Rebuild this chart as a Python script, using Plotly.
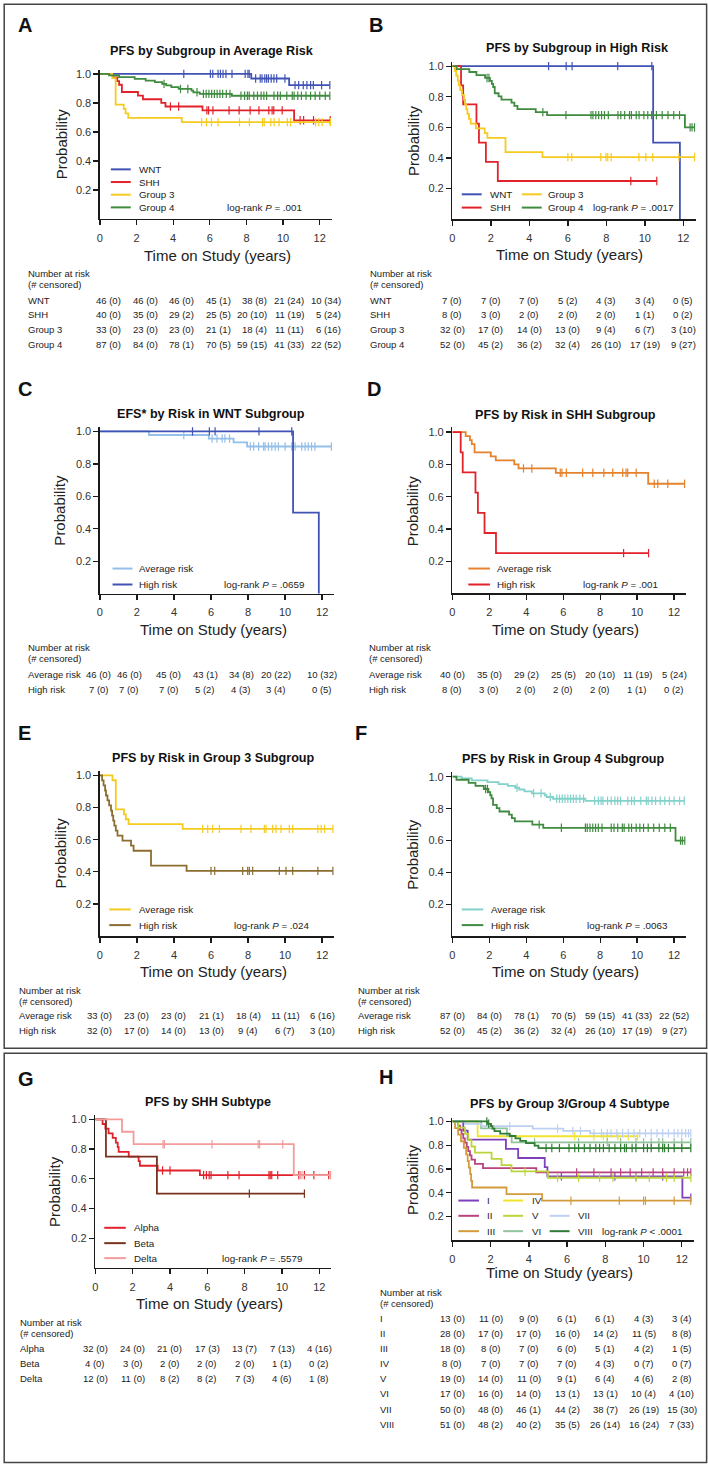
import numpy as np
import plotly.graph_objects as go

W, H = 708, 1464
FONT = "Liberation Sans, Arial, Helvetica, sans-serif"

# ---------------- data ----------------
# Each curve: step times (years), survival after each step, end of follow-up, censor times
WNT_AVG_T = [0, 8.26, 10.33]
WNT_AVG_S = [1.0, 0.968, 0.922]
WNT_AVG_END = 12.55
WNT_AVG_C = [4.58, 6.03, 6.16, 6.45, 6.58, 6.72, 6.88, 7.21, 7.93, 8.08, 8.15, 8.5, 8.75, 8.85,
             9.0, 9.1, 9.2, 9.35, 9.5, 9.65, 10.1, 10.65, 10.85, 11.1, 11.3, 11.5, 11.65, 12.1, 12.55]

SHH_AVG_T = [0, 0.72, 0.95, 1.05, 1.2, 2.08, 2.35, 3.35, 3.58, 5.6, 10.6]
SHH_AVG_S = [1.0, 0.975, 0.95, 0.925, 0.875, 0.85, 0.825, 0.8, 0.775, 0.748, 0.68]
SHH_AVG_END = 12.57
SHH_AVG_C = [3.85, 4.3, 5.84, 5.93, 6.17, 7.05, 7.6, 8.2, 8.68, 9.22, 9.4, 9.49, 9.95,
             10.93, 11.12, 11.66, 12.57]

GRP3_AVG_T = [0, 0.68, 0.86, 1.3, 1.4, 1.55, 4.47]
GRP3_AVG_S = [1.0, 0.97, 0.788, 0.758, 0.727, 0.697, 0.667]
GRP3_AVG_END = 12.58
GRP3_AVG_C = [5.55, 5.82, 6.09, 6.45, 7.62, 8.16, 8.88, 8.97, 9.33, 9.51, 9.78, 10.23, 10.41,
              11.77, 11.95, 12.13, 12.58]

GRP4_AVG_T = [0, 0.5, 1.05, 1.9, 2.5, 3.0, 3.4, 3.62, 3.9, 4.3, 5.0, 5.1, 5.45, 7.2]
GRP4_AVG_S = [1.0, 0.989, 0.977, 0.966, 0.954, 0.943, 0.931, 0.92, 0.908, 0.896, 0.884, 0.873,
              0.862, 0.849]
GRP4_AVG_END = 12.55
GRP4_AVG_C = [3.5, 4.4, 4.8, 5.3, 5.65, 5.8, 5.95, 6.1, 6.25, 6.4, 6.55, 6.7, 6.9, 7.1, 7.7, 7.9,
              8.05, 8.15, 8.4, 8.6, 8.8, 8.95, 9.1, 9.5, 9.7, 9.85, 10.2, 10.5, 10.6, 10.8, 11.0,
              11.25, 11.5, 11.75, 12.0, 12.3, 12.55]

WNT_HIGH_T = [0, 10.43, 11.82]
WNT_HIGH_S = [1.0, 0.5, 0.0]
WNT_HIGH_END = 11.82
WNT_HIGH_C = [5.0, 5.91, 6.22, 8.59, 10.36]

SHH_HIGH_T = [0, 0.45, 0.56, 1.25, 1.38, 1.74, 2.36]
SHH_HIGH_S = [1.0, 0.875, 0.75, 0.625, 0.5, 0.375, 0.25]
SHH_HIGH_END = 10.62
SHH_HIGH_C = [9.27, 10.62]

GRP3_HIGH_T = [0, 0.12, 0.2, 0.28, 0.33, 0.41, 0.5, 0.6, 0.66, 0.72, 0.78, 0.86, 0.95, 1.22,
               1.68, 1.82, 2.76, 4.68]
GRP3_HIGH_S = [1.0, 0.969, 0.938, 0.906, 0.875, 0.844, 0.813, 0.781, 0.75, 0.719, 0.688, 0.656,
               0.625, 0.594, 0.563, 0.531, 0.438, 0.406]
GRP3_HIGH_END = 12.58
GRP3_HIGH_C = [6.0, 6.2, 7.71, 7.98, 8.07, 8.25, 9.69, 10.05, 10.41, 11.77, 12.58]

GRP4_HIGH_T = [0, 0.22, 0.88, 1.25, 1.7, 1.95, 2.05, 2.12, 2.2, 2.4, 2.55, 3.07, 3.22, 3.38,
               4.33, 4.92, 12.08]
GRP4_HIGH_S = [1.0, 0.981, 0.962, 0.942, 0.923, 0.904, 0.884, 0.864, 0.823, 0.803, 0.782, 0.762,
               0.741, 0.72, 0.70, 0.68, 0.60]
GRP4_HIGH_END = 12.58
GRP4_HIGH_C = [1.8, 1.9, 4.7, 5.9, 7.2, 7.3, 7.45, 7.6, 7.75, 7.9, 8.1, 8.6, 8.75, 8.95, 9.2, 9.3,
               9.55, 9.7, 9.95, 10.15, 10.35, 10.6, 10.9, 11.2, 11.5, 11.8, 12.35, 12.45, 12.58]

WNT_AVG_EFS_T = [0, 2.65, 5.88, 7.22, 7.95]
WNT_AVG_EFS_S = [1.0, 0.978, 0.956, 0.932, 0.907]
WNT_AVG_EFS_END = 12.5
WNT_AVG_EFS_C = [4.53, 6.06, 6.32, 6.6, 6.75, 7.0, 8.12, 8.3, 8.57, 8.84, 8.92, 9.1, 9.28, 9.46,
                 9.64, 10.0, 10.36, 10.54, 10.9, 11.08, 11.25, 11.43, 11.61, 12.5]

ALPHA_T = [0, 0.39, 0.54, 0.71, 0.93, 1.1, 1.2, 1.25, 1.79, 2.32, 2.39, 3.34, 5.6]
ALPHA_S = [1.0, 0.969, 0.938, 0.906, 0.875, 0.844, 0.813, 0.781, 0.75, 0.719, 0.688, 0.656, 0.625]
ALPHA_END = 12.5
ALPHA_C = [3.6, 4.0, 5.8, 5.95, 6.1, 6.2, 7.1, 7.7, 9.3, 9.37, 9.45, 9.77, 10.9, 11.2, 11.7, 12.5]

BETA_T = [0, 0.57, 3.3]
BETA_S = [1.0, 0.75, 0.5]
BETA_END = 11.2
BETA_C = [8.25, 11.2]

DELTA_T = [0, 1.43, 2.05, 10.63]
DELTA_S = [1.0, 0.917, 0.833, 0.625]
DELTA_END = 12.6
DELTA_C = [3.63, 3.7, 6.25, 8.72, 8.8, 10.04, 10.98, 11.07, 11.73, 12.6]

SUB1_T = [0, 0.57, 0.8, 2.8, 3.44, 4.83, 4.97, 12.03]
SUB1_S = [1.0, 0.923, 0.846, 0.769, 0.692, 0.615, 0.538, 0.359]
SUB1_END = 12.47
SUB1_C = [5.7, 8.5, 9.6, 11.0, 12.47]

SUB2_T = [0, 0.3, 0.4, 0.48, 0.57, 0.65, 0.75, 0.83, 0.92, 1.0, 1.18, 1.6, 4.39]
SUB2_S = [1.0, 0.964, 0.929, 0.893, 0.857, 0.821, 0.786, 0.75, 0.714, 0.679, 0.643, 0.607, 0.571]
SUB2_END = 12.47
SUB2_C = [6.5, 7.4, 8.3, 8.8, 9.3, 9.9, 10.5, 11.0, 11.6, 12.1, 12.3, 12.47]

SUB3_T = [0, 0.14, 0.3, 0.45, 0.6, 0.72, 0.8, 0.86, 0.93, 0.98, 1.03, 2.83, 4.69]
SUB3_S = [1.0, 0.944, 0.889, 0.833, 0.778, 0.722, 0.667, 0.611, 0.556, 0.5, 0.444, 0.389, 0.333]
SUB3_END = 12.47
SUB3_C = [6.2, 8.73, 10.0, 10.1, 11.6, 12.47]

SUB4_T = [0, 1.32]
SUB4_S = [1.0, 0.875]
SUB4_END = 9.69
SUB4_C = [6.4, 7.4, 7.9, 8.1, 8.65, 9.2, 9.69]

SUB5_T = [0, 0.31, 0.66, 0.83, 1.0, 1.18, 2.05, 2.57, 3.09, 5.0]
SUB5_S = [1.0, 0.947, 0.895, 0.842, 0.789, 0.737, 0.684, 0.632, 0.579, 0.526]
SUB5_END = 12.47
SUB5_C = [3.8, 5.5, 6.6, 7.7, 8.4, 9.6, 10.3, 11.2, 11.6, 12.47]

SUB6_T = [0, 1.5, 2.85, 3.1]
SUB6_S = [1.0, 0.941, 0.882, 0.824]
SUB6_END = 12.47
SUB6_C = [4.3, 6.6, 8.1, 8.8, 9.6, 10.0, 10.4, 10.8, 11.0, 11.6, 12.0, 12.47]

SUB7_T = [0, 0.66, 1.53, 4.2, 5.8, 7.2]
SUB7_S = [1.0, 0.98, 0.96, 0.94, 0.92, 0.90]
SUB7_END = 12.47
SUB7_C = [3.0, 5.5, 6.3, 6.7, 7.4, 7.8, 8.1, 8.3, 8.6, 8.9, 9.2, 9.5, 9.8, 10.1, 10.4, 10.7, 11.0,
          11.3, 11.6, 11.8, 12.0, 12.2, 12.35, 12.47]

SUB8_T = [0, 1.85, 2.02, 2.1, 2.2, 2.5, 3.0, 3.3, 3.55, 3.85, 4.3, 4.5]
SUB8_S = [1.0, 0.98, 0.96, 0.939, 0.918, 0.898, 0.877, 0.857, 0.837, 0.817, 0.796, 0.776]
SUB8_END = 12.47
SUB8_C = [1.8, 1.9, 4.9, 5.2, 5.6, 6.1, 6.4, 6.6, 6.9, 7.2, 7.5, 7.7, 7.9, 8.2, 8.5, 8.8, 9.0,
          9.1, 9.4, 9.6, 10.0, 10.2, 10.4, 10.8, 11.0, 11.1, 11.3, 11.6, 12.0, 12.47]

# ---------------- number-at-risk tables ----------------
X_TICKS = [0, 2, 4, 6, 8, 10, 12]
Y_TICKS = [0.2, 0.4, 0.6, 0.8, 1.0]
Y_TICK_TEXT = ["0.2", "0.4", "0.6", "0.8", "1.0"]

TAB_A = [["46 (0)", "46 (0)", "46 (0)", "45 (1)", "38 (8)", "21 (24)", "10 (34)"],
         ["40 (0)", "35 (0)", "29 (2)", "25 (5)", "20 (10)", "11 (19)", "5 (24)"],
         ["33 (0)", "23 (0)", "23 (0)", "21 (1)", "18 (4)", "11 (11)", "6 (16)"],
         ["87 (0)", "84 (0)", "78 (1)", "70 (5)", "59 (15)", "41 (33)", "22 (52)"]]
TAB_B = [["7 (0)", "7 (0)", "7 (0)", "5 (2)", "4 (3)", "3 (4)", "0 (5)"],
         ["8 (0)", "3 (0)", "2 (0)", "2 (0)", "2 (0)", "1 (1)", "0 (2)"],
         ["32 (0)", "17 (0)", "14 (0)", "13 (0)", "9 (4)", "6 (7)", "3 (10)"],
         ["52 (0)", "45 (2)", "36 (2)", "32 (4)", "26 (10)", "17 (19)", "9 (27)"]]
TAB_C = [["46 (0)", "46 (0)", "45 (0)", "43 (1)", "34 (8)", "20 (22)", "10 (32)"],
         ["7 (0)", "7 (0)", "7 (0)", "5 (2)", "4 (3)", "3 (4)", "0 (5)"]]
TAB_D = [["40 (0)", "35 (0)", "29 (2)", "25 (5)", "20 (10)", "11 (19)", "5 (24)"],
         ["8 (0)", "3 (0)", "2 (0)", "2 (0)", "2 (0)", "1 (1)", "0 (2)"]]
TAB_E = [["33 (0)", "23 (0)", "23 (0)", "21 (1)", "18 (4)", "11 (11)", "6 (16)"],
         ["32 (0)", "17 (0)", "14 (0)", "13 (0)", "9 (4)", "6 (7)", "3 (10)"]]
TAB_F = [["87 (0)", "84 (0)", "78 (1)", "70 (5)", "59 (15)", "41 (33)", "22 (52)"],
         ["52 (0)", "45 (2)", "36 (2)", "32 (4)", "26 (10)", "17 (19)", "9 (27)"]]
TAB_G = [["32 (0)", "24 (0)", "21 (0)", "17 (3)", "13 (7)", "7 (13)", "4 (16)"],
         ["4 (0)", "3 (0)", "2 (0)", "2 (0)", "2 (0)", "1 (1)", "0 (2)"],
         ["12 (0)", "11 (0)", "8 (2)", "8 (2)", "7 (3)", "4 (6)", "1 (8)"]]
TAB_H = [["13 (0)", "11 (0)", "9 (0)", "6 (1)", "6 (1)", "4 (3)", "3 (4)"],
         ["28 (0)", "17 (0)", "17 (0)", "16 (0)", "14 (2)", "11 (5)", "8 (8)"],
         ["18 (0)", "8 (0)", "7 (0)", "6 (0)", "5 (1)", "4 (2)", "1 (5)"],
         ["8 (0)", "7 (0)", "7 (0)", "7 (0)", "4 (3)", "0 (7)", "0 (7)"],
         ["19 (0)", "14 (0)", "11 (0)", "9 (1)", "6 (4)", "4 (6)", "2 (8)"],
         ["17 (0)", "16 (0)", "14 (0)", "13 (1)", "13 (1)", "10 (4)", "4 (10)"],
         ["50 (0)", "48 (0)", "46 (1)", "44 (2)", "38 (7)", "26 (19)", "15 (30)"],
         ["51 (0)", "48 (2)", "40 (2)", "35 (5)", "26 (14)", "16 (24)", "7 (33)"]]

P_VALUES = {"A": "= .001", "B": "= .0017", "C": "= .0659", "D": "= .001",
            "E": "= .024", "F": "= .0063", "G": "= .5579", "H": "&lt; .0001"}

CURVES = {
    "WNT_AVG": (WNT_AVG_T, WNT_AVG_S, WNT_AVG_END, WNT_AVG_C),
    "SHH_AVG": (SHH_AVG_T, SHH_AVG_S, SHH_AVG_END, SHH_AVG_C),
    "GRP3_AVG": (GRP3_AVG_T, GRP3_AVG_S, GRP3_AVG_END, GRP3_AVG_C),
    "GRP4_AVG": (GRP4_AVG_T, GRP4_AVG_S, GRP4_AVG_END, GRP4_AVG_C),
    "WNT_HIGH": (WNT_HIGH_T, WNT_HIGH_S, WNT_HIGH_END, WNT_HIGH_C),
    "SHH_HIGH": (SHH_HIGH_T, SHH_HIGH_S, SHH_HIGH_END, SHH_HIGH_C),
    "GRP3_HIGH": (GRP3_HIGH_T, GRP3_HIGH_S, GRP3_HIGH_END, GRP3_HIGH_C),
    "GRP4_HIGH": (GRP4_HIGH_T, GRP4_HIGH_S, GRP4_HIGH_END, GRP4_HIGH_C),
    "WNT_AVG_EFS": (WNT_AVG_EFS_T, WNT_AVG_EFS_S, WNT_AVG_EFS_END, WNT_AVG_EFS_C),
    "ALPHA": (ALPHA_T, ALPHA_S, ALPHA_END, ALPHA_C),
    "BETA": (BETA_T, BETA_S, BETA_END, BETA_C),
    "DELTA": (DELTA_T, DELTA_S, DELTA_END, DELTA_C),
    "SUB1": (SUB1_T, SUB1_S, SUB1_END, SUB1_C),
    "SUB2": (SUB2_T, SUB2_S, SUB2_END, SUB2_C),
    "SUB3": (SUB3_T, SUB3_S, SUB3_END, SUB3_C),
    "SUB4": (SUB4_T, SUB4_S, SUB4_END, SUB4_C),
    "SUB5": (SUB5_T, SUB5_S, SUB5_END, SUB5_C),
    "SUB6": (SUB6_T, SUB6_S, SUB6_END, SUB6_C),
    "SUB7": (SUB7_T, SUB7_S, SUB7_END, SUB7_C),
    "SUB8": (SUB8_T, SUB8_S, SUB8_END, SUB8_C),
}

# ---------------- styles ----------------
C_WNT, C_SHH, C_G3, C_G4 = "#4053b5", "#e2222a", "#f5cb1f", "#3f8b3f"
C_LBLUE, C_ORANGE, C_BROWN, C_TEAL = "#93bfe9", "#e6822c", "#8b6d2f", "#82d1ca"
C_ALPHA, C_BETA, C_DELTA = "#e2222a", "#7a3220", "#f29c9c"
C_H = ["#7e3fbd", "#b8437f", "#d49b3c", "#f1e42c", "#bbd43a", "#92c39d", "#bdd0f2", "#2f7d33"]

PANELS = {
    "A": dict(title="PFS by Subgroup in Average Risk",
              series=[("WNT", "WNT_AVG", C_WNT), ("SHH", "SHH_AVG", C_SHH),
                      ("Group 3", "GRP3_AVG", C_G3), ("Group 4", "GRP4_AVG", C_G4)],
              table=TAB_A),
    "B": dict(title="PFS by Subgroup in High Risk",
              series=[("WNT", "WNT_HIGH", C_WNT), ("SHH", "SHH_HIGH", C_SHH),
                      ("Group 3", "GRP3_HIGH", C_G3), ("Group 4", "GRP4_HIGH", C_G4)],
              table=TAB_B),
    "C": dict(title="EFS* by Risk in WNT Subgroup",
              series=[("Average risk", "WNT_AVG_EFS", C_LBLUE), ("High risk", "WNT_HIGH", C_WNT)],
              table=TAB_C),
    "D": dict(title="PFS by Risk in SHH Subgroup",
              series=[("Average risk", "SHH_AVG", C_ORANGE), ("High risk", "SHH_HIGH", C_SHH)],
              table=TAB_D),
    "E": dict(title="PFS by Risk in Group 3 Subgroup",
              series=[("Average risk", "GRP3_AVG", C_G3), ("High risk", "GRP3_HIGH", C_BROWN)],
              table=TAB_E),
    "F": dict(title="PFS by Risk in Group 4 Subgroup",
              series=[("Average risk", "GRP4_AVG", C_TEAL), ("High risk", "GRP4_HIGH", C_G4)],
              table=TAB_F),
    "G": dict(title="PFS by SHH Subtype",
              series=[("Alpha", "ALPHA", C_ALPHA), ("Beta", "BETA", C_BETA), ("Delta", "DELTA", C_DELTA)],
              table=TAB_G),
    "H": dict(title="PFS by Group 3/Group 4 Subtype",
              series=[(n, "SUB%d" % (i + 1), C_H[i]) for i, n in
                      enumerate(["I", "II", "III", "IV", "V", "VI", "VII", "VIII"])],
              table=TAB_H),
}

# ---------------- layout geometry (pixels) ----------------
XMAX, YMAX = 12.65, 1.03
NO_SHIFT = [0] * 7
GEOM = {
    "A": dict(x0=97.3, ppy=18.4, ybot=216.4, ppu=145.4, letter=(21.7, 21.7), title=(210.3, 48.3),
              xt=(215, 253), ytx=58.3,
              leg_cols=[(108.3, 128.3, 135)], leg_rows=[166.7, 179.4, 192.1, 204.8],
              leg_pos=[(0, 0), (0, 1), (0, 2), (0, 3)], lr=(223, 204.8),
              tab_x=22.7, nar=270.7, rows=[297.7, 312.4, 327.1, 341.8],
              anchor="right", shifts=[23] * 7),
    "B": dict(x0=451.3, ppy=19.33, ybot=216.7, ppu=153.4, letter=(375, 21.7), title=(577.3, 45),
              xt=(569, 251.7), ytx=412.3,
              leg_cols=[(460.7, 480.7, 486.7), (521, 541, 545.7)], leg_rows=[191.7, 205],
              leg_pos=[(0, 0), (0, 1), (1, 0), (1, 1)], lr=(591, 205),
              tab_x=366.7, nar=270.7, rows=[297.7, 312.4, 327.1, 341.8],
              anchor="center", shifts=NO_SHIFT),
    "C": dict(x0=97.3, ppy=18.6, ybot=592.0, ppu=162.7, letter=(21.7, 386.7), title=(209.3, 411.7),
              xt=(211.7, 627.3), ytx=56.7,
              leg_cols=[(110, 130, 135)], leg_rows=[566.7, 582.7],
              leg_pos=[(0, 0), (0, 1)], lr=(220, 582.7),
              tab_x=23.3, nar=646, rows=[672.7, 688.3],
              anchor="center", shifts=[-1.3, -7.5, -5.2, -5.9, -6.6, -8.8, 0]),
    "D": dict(x0=451.3, ppy=18.55, ybot=591.7, ppu=161.7, letter=(373, 386.7), title=(564.7, 412.7),
              xt=(565.3, 627.3), ytx=410.7,
              leg_cols=[(467.3, 489, 494)], leg_rows=[566.7, 582.7],
              leg_pos=[(0, 0), (0, 1)], lr=(580.7, 582.7),
              tab_x=365.7, nar=646, rows=[672.7, 688.3], anchor="center", shifts=NO_SHIFT),
    "E": dict(x0=97.3, ppy=18.6, ybot=935.0, ppu=161.0, letter=(21.7, 731.7), title=(211.7, 756.7),
              xt=(211.3, 970), ytx=57.3,
              leg_cols=[(106.7, 128.3, 134.3)], leg_rows=[908.3, 924],
              leg_pos=[(0, 0), (0, 1)], lr=(230, 924),
              tab_x=14, nar=989.3, rows=[1015, 1030], anchor="center", shifts=NO_SHIFT),
    "F": dict(x0=451.3, ppy=18.55, ybot=935.3, ppu=160.0, letter=(359.5, 731.7), title=(563.3, 757.3),
              xt=(565.3, 970), ytx=411.3,
              leg_cols=[(460.7, 482.3, 488.3)], leg_rows=[908.3, 924],
              leg_pos=[(0, 0), (0, 1)], lr=(584, 924),
              tab_x=355, nar=989.3, rows=[1015, 1030], anchor="center", shifts=NO_SHIFT),
    "G": dict(x0=92.7, ppy=18.75, ybot=1267.5, ppu=148.8, letter=(23.3, 1078), title=(206, 1101.7),
              xt=(207.8, 1303), ytx=51.7,
              leg_cols=[(101.7, 123.3, 129.3)], leg_rows=[1227.3, 1242.7, 1257.7],
              leg_pos=[(0, 0), (0, 1), (0, 2)], lr=(218.3, 1257.7),
              tab_x=15, nar=1322, rows=[1348, 1363.3, 1378.7], anchor="center", shifts=NO_SHIFT),
    "H": dict(x0=451.3, ppy=19.2, ybot=1239.8, ppu=119.1, letter=(384.7, 1076.7), title=(569, 1103),
              xt=(559, 1272), ytx=410.7,
              leg_cols=[(457.3, 478, 484), (502.3, 522.3, 529), (549, 569, 575.7)],
              leg_rows=[1200, 1215.3, 1230.7],
              leg_pos=[(0, 0), (0, 1), (0, 2), (1, 0), (1, 1), (1, 2), (2, 1), (2, 2)], lr=(600, 1230.7),
              tab_x=377, nar=1291.7, rows=[1318 + 15.15 * i for i in range(8)],
              anchor="center", shifts=NO_SHIFT),
}


def px(x):
    return x / W


def py(y):
    return 1 - y / H


fig = go.Figure()
annotations, shapes = [], []
layout_axes = {}

for i, key in enumerate("ABCDEFGH", start=1):
    g, p = GEOM[key], PANELS[key]
    xa, ya = "x%d" % i, "y%d" % i
    xdom = [px(g["x0"]), px(g["x0"] + XMAX * g["ppy"])]
    ydom = [py(g["ybot"]), py(g["ybot"] - YMAX * g["ppu"])]
    common = dict(showgrid=False, zeroline=False, showline=True, linecolor="#1a1a1a", linewidth=1.5,
                  ticks="outside", ticklen=5, tickwidth=1.3, tickcolor="#1a1a1a",
                  tickfont=dict(family=FONT, size=11, color="#333"), fixedrange=True)
    layout_axes["xaxis%d" % i] = dict(domain=xdom, range=[0, XMAX], tickvals=X_TICKS,
                                      anchor=ya, ticklabelstandoff=3, **common)
    layout_axes["yaxis%d" % i] = dict(domain=ydom, range=[0, YMAX], tickvals=Y_TICKS,
                                      ticktext=Y_TICK_TEXT, anchor=xa, **common)

    for name, ck, color in p["series"]:
        t, s, end, cens = CURVES[ck]
        fig.add_trace(go.Scatter(x=list(t) + [end], y=list(s) + [s[-1]], mode="lines",
                                 line=dict(shape="hv", color=color, width=1.8),
                                 xaxis=xa, yaxis=ya, hoverinfo="skip", showlegend=False))
        idx = np.searchsorted(np.asarray(t), np.asarray(cens), side="right") - 1
        cy = np.asarray(s)[idx]
        fig.add_trace(go.Scatter(x=cens, y=cy, mode="markers",
                                 marker=dict(symbol="line-ns-open", size=6, color=color,
                                             line=dict(color=color, width=1.2)),
                                 xaxis=xa, yaxis=ya, hoverinfo="skip", showlegend=False,
                                 cliponaxis=False))

    # panel letter, title, axis titles
    annotations.append(dict(text="<b>%s</b>" % key, x=px(g["letter"][0]), y=py(g["letter"][1]),
                            xref="paper", yref="paper", showarrow=False, xanchor="center",
                            yanchor="middle", font=dict(family=FONT, size=20, color="#111")))
    annotations.append(dict(text="<b>%s</b>" % p["title"], x=px(g["title"][0]), y=py(g["title"][1]),
                            xref="paper", yref="paper", showarrow=False, xanchor="center",
                            yanchor="middle", font=dict(family=FONT, size=12.6, color="#111")))
    annotations.append(dict(text="Time on Study (years)", x=px(g["xt"][0]), y=py(g["xt"][1]),
                            xref="paper", yref="paper", showarrow=False, xanchor="center",
                            yanchor="middle", font=dict(family=FONT, size=15, color="#222")))
    annotations.append(dict(text="Probability", x=px(g["ytx"]), y=(ydom[0] + ydom[1]) / 2,
                            xref="paper", yref="paper", showarrow=False, textangle=-90,
                            xanchor="center", yanchor="middle",
                            font=dict(family=FONT, size=15, color="#222")))

    # legend
    for (name, ck, color), (ci, ri) in zip(p["series"], g["leg_pos"]):
        lx0, lx1, tx = g["leg_cols"][ci]
        yy = g["leg_rows"][ri]
        shapes.append(dict(type="line", xref="paper", yref="paper", x0=px(lx0), x1=px(lx1),
                           y0=py(yy), y1=py(yy), line=dict(color=color, width=2)))
        annotations.append(dict(text=name, x=px(tx), y=py(yy), xref="paper", yref="paper",
                                showarrow=False, xanchor="left", yanchor="middle",
                                font=dict(family=FONT, size=9.8, color="#222")))
    annotations.append(dict(text="log-rank <i>P</i> %s" % P_VALUES[key], x=px(g["lr"][0]),
                            y=py(g["lr"][1]), xref="paper", yref="paper", showarrow=False,
                            xanchor="left", yanchor="middle",
                            font=dict(family=FONT, size=9.8, color="#222")))

    # number at risk table
    annotations.append(dict(text="Number at risk", x=px(g["tab_x"]), y=py(g["nar"]), xref="paper",
                            yref="paper", showarrow=False, xanchor="left", yanchor="middle",
                            font=dict(family=FONT, size=9.5, color="#222")))
    annotations.append(dict(text="(# censored)", x=px(g["tab_x"]), y=py(g["nar"] + 11),
                            xref="paper", yref="paper", showarrow=False, xanchor="left",
                            yanchor="middle", font=dict(family=FONT, size=9.5, color="#222")))
    for (name, ck, color), row, yy in zip(p["series"], p["table"], g["rows"]):
        annotations.append(dict(text=name, x=px(g["tab_x"]), y=py(yy), xref="paper", yref="paper",
                                showarrow=False, xanchor="left", yanchor="middle",
                                font=dict(family=FONT, size=9.5, color="#222")))
        for cx, sh, cell in zip(X_TICKS, g["shifts"], row):
            annotations.append(dict(text=cell, x=cx, y=py(yy), xref=xa, yref="paper",
                                    showarrow=False, xanchor=g["anchor"], xshift=sh,
                                    yanchor="middle",
                                    font=dict(family=FONT, size=9.5, color="#222")))

# outer boxes
shapes.append(dict(type="rect", xref="paper", yref="paper", x0=px(1.2), x1=px(706.6), y0=py(1.2),
                   y1=py(1047.5), line=dict(color="#444", width=1.5)))
shapes.append(dict(type="rect", xref="paper", yref="paper", x0=px(1.2), x1=px(706.6), y0=py(1052.5),
                   y1=py(1462.5), line=dict(color="#444", width=1.5)))

fig.update_layout(width=W, height=H, margin=dict(l=0, r=0, t=0, b=0),
                  paper_bgcolor="white", plot_bgcolor="white", showlegend=False,
                  annotations=annotations, shapes=shapes, **layout_axes)

fig.write_html("out.html", config={"displayModeBar": False, "staticPlot": True},
               post_script="document.body.style.margin='0';document.body.style.padding='0';"
                           "document.documentElement.style.overflow='hidden';")
